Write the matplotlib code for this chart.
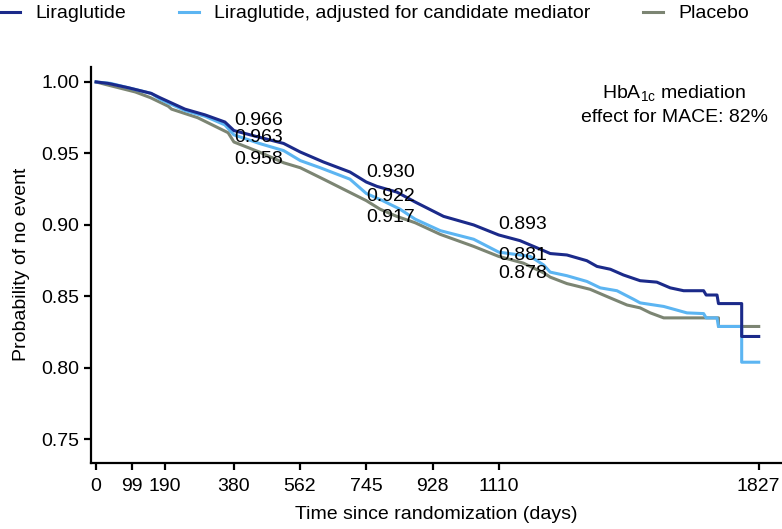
import matplotlib
matplotlib.use("Agg")
import matplotlib.pyplot as plt

plt.rcParams['font.family'] = ['Liberation Sans', 'DejaVu Sans']
plt.rcParams['mathtext.fontset'] = 'custom'
plt.rcParams['mathtext.rm'] = 'Liberation Sans'

# survival curves (repeated days = a visible drop)
lira_days = [0, 33, 88, 152, 176, 245, 300, 355, 380, 440, 517, 563, 627, 700, 745, 774, 829,
             880, 958, 1041, 1110, 1169, 1234, 1252, 1298, 1353, 1381, 1418, 1454, 1500, 1546,
             1583, 1620, 1675, 1682, 1712, 1716, 1780, 1780, 1827]
lira_surv = [1.0, 0.999, 0.996, 0.992, 0.989, 0.981, 0.977, 0.972, 0.966, 0.962, 0.957, 0.951,
             0.944, 0.937, 0.930, 0.927, 0.923, 0.916, 0.906, 0.900, 0.893, 0.889, 0.882, 0.880,
             0.879, 0.875, 0.871, 0.869, 0.865, 0.861, 0.860, 0.856, 0.854, 0.854, 0.851, 0.851,
             0.845, 0.845, 0.822, 0.822]

adj_days = [0, 40, 88, 152, 176, 245, 300, 355, 380, 450, 517, 563, 618, 700, 745, 790, 838,
            880, 949, 1041, 1110, 1197, 1234, 1252, 1298, 1353, 1390, 1436, 1482, 1500, 1565,
            1629, 1675, 1682, 1712, 1716, 1780, 1780, 1827]
adj_surv = [1.0, 0.999, 0.996, 0.992, 0.988, 0.980, 0.976, 0.970, 0.963, 0.957, 0.952, 0.945,
            0.940, 0.932, 0.922, 0.917, 0.911, 0.904, 0.896, 0.890, 0.881, 0.878, 0.872, 0.867,
            0.8645, 0.8605, 0.856, 0.854, 0.848, 0.8455, 0.843, 0.8385, 0.838, 0.835, 0.835,
            0.829, 0.829, 0.804, 0.804]

pla_days = [0, 30, 108, 150, 199, 208, 280, 364, 380, 450, 517, 563, 627, 682, 745, 783, 829,
            880, 949, 1041, 1110, 1178, 1234, 1252, 1298, 1362, 1408, 1464, 1500, 1528, 1565,
            1716, 1716, 1827]
pla_surv = [1.0, 0.998, 0.993, 0.989, 0.983, 0.981, 0.975, 0.9645, 0.958, 0.951, 0.9435, 0.940,
            0.932, 0.925, 0.917, 0.911, 0.906, 0.9015, 0.8934, 0.885, 0.878, 0.8733, 0.8665,
            0.8635, 0.859, 0.855, 0.850, 0.844, 0.842, 0.8385, 0.835, 0.835, 0.829, 0.829]

label_days = [380, 745, 1110]
lira_labels = [0.966, 0.930, 0.893]
adj_labels = [0.963, 0.922, 0.881]
pla_labels = [0.958, 0.917, 0.878]

x_ticks = [0, 99, 190, 380, 562, 745, 928, 1110, 1827]
y_ticks = [0.75, 0.80, 0.85, 0.90, 0.95, 1.00]

c_lira = '#1b2a8a'
c_adj = '#5cb5f2'
c_pla = '#7c8573'

fig = plt.figure(figsize=(7.82, 5.29), dpi=100)
ax = fig.add_axes([0.1164, 0.125, 0.8826, 0.749])

ax.plot(pla_days, pla_surv, color=c_pla, lw=2.2, label='Placebo')
ax.plot(adj_days, adj_surv, color=c_adj, lw=2.2,
        label='Liraglutide, adjusted for candidate mediator')
ax.plot(lira_days, lira_surv, color=c_lira, lw=2.2, label='Liraglutide')

fs = 14
for d, a, b, c in zip(label_days, lira_labels, adj_labels, pla_labels):
    ax.annotate(f'{a:.3f}', (d, a), xytext=(0, 10), textcoords='offset pixels',
                ha='left', va='center', fontsize=fs)
    ax.annotate(f'{b:.3f}', (d, b), xytext=(0, -3), textcoords='offset pixels',
                ha='left', va='center', fontsize=fs)
    ax.annotate(f'{c:.3f}', (d, c), xytext=(0, -17), textcoords='offset pixels',
                ha='left', va='center', fontsize=fs)

ax.text(0.845, 0.903, 'HbA$_{\\mathregular{1c}}$ mediation\neffect for MACE: 82%',
        transform=ax.transAxes, ha='center', va='center', fontsize=fs, linespacing=1.35)

ax.set_xlim(-14, 1889)
ax.set_ylim(0.7336, 1.0107)
ax.set_xticks(x_ticks)
ax.set_yticks(y_ticks)
ax.set_yticklabels([f'{v:.2f}' for v in y_ticks])
ax.tick_params(labelsize=fs, width=1.6, length=5)
ax.tick_params(axis='x', pad=6)
ax.spines['top'].set_visible(False)
ax.spines['right'].set_visible(False)
ax.spines['left'].set_linewidth(1.6)
ax.spines['bottom'].set_linewidth(1.6)
ax.set_xlabel('Time since randomization (days)', fontsize=fs, labelpad=8)
ax.set_ylabel('Probability of no event', fontsize=fs, labelpad=8)

handles, labels = ax.get_legend_handles_labels()
fig.legend(handles[::-1], labels[::-1], loc='upper left', bbox_to_anchor=(0.0, 0.991),
           ncol=3, frameon=False, fontsize=fs, handlelength=1.05, handletextpad=0.77,
           columnspacing=2.7, borderpad=0.0, borderaxespad=0.0)

fig.savefig('out.png', dpi=100)
